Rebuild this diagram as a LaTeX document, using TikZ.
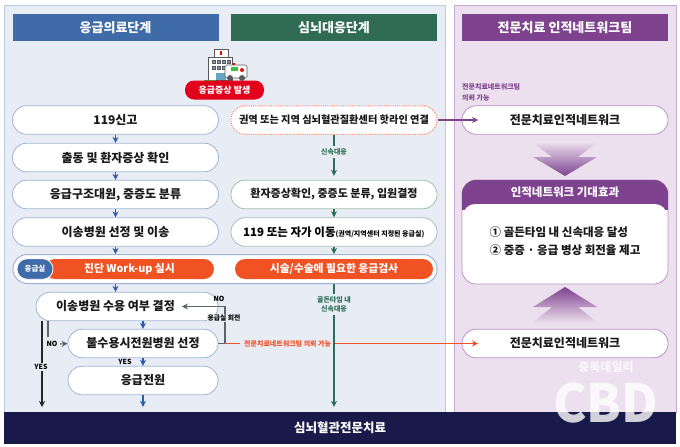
\documentclass[tikz,border=0pt]{standalone}
\usepackage{fontspec}
\setmainfont{Noto Sans CJK KR}
\usetikzlibrary{arrows.meta,shadings,fadings}
\definecolor{panelA}{HTML}{E8ECF5}
\definecolor{panelAline}{HTML}{B7CBE2}
\definecolor{panelB}{HTML}{ECDFEE}
\definecolor{panelBline}{HTML}{C9A9D3}
\definecolor{blueH}{HTML}{3F6CA8}
\definecolor{greenH}{HTML}{2F6B55}
\definecolor{purpleH}{HTML}{7E428F}
\definecolor{navy}{HTML}{1A1A4A}
\definecolor{orangeF}{HTML}{F15223}
\definecolor{redF}{HTML}{E3001B}
\definecolor{blueL}{HTML}{9DB6D8}
\definecolor{greenL}{HTML}{A2C2B2}
\definecolor{purpleL}{HTML}{BC93C8}
\definecolor{arrowB}{HTML}{2A5CA8}
\definecolor{arrowG}{HTML}{2C6E53}
\definecolor{grayL}{HTML}{5C6468}
\newcommand{\fs}[1]{\fontsize{#1}{#1}\selectfont}
\tikzset{
 x=1pt,y=-1pt,
 >={Stealth[length=6pt,width=6pt]},
 hdr/.style={inner sep=0pt,text=white,font=\fs{13}\bfseries,minimum height=27,minimum width=206},
 pill/.style={draw,line width=.8pt,fill=white,rounded corners=14pt,inner sep=0pt,minimum height=28.5,font=\fs{12}\bfseries,text=black!90},
 bluebox/.style={pill,draw=blueL,minimum width=206},
 greenbox/.style={pill,draw=greenL,minimum width=206},
 purplebox/.style={pill,draw=purpleL,minimum width=206},
 orangepill/.style={fill=orangeF,rounded corners=10pt,inner sep=0pt,minimum height=20,text=white,font=\fs{10.8}\bfseries},
 smalltxt/.style={inner sep=0pt,font=\fs{7}\bfseries,align=center},
 flowB/.style={->,draw=arrowB,line width=1.2pt},
 flowG/.style={->,draw=arrowG,line width=1.2pt},
 flowK/.style={draw=grayL,line width=1.1pt},
}
\begin{document}
\begin{tikzpicture}
\useasboundingbox (0,0) rectangle (680,447);
\fill[white] (0,0) rectangle (680,447);
% panels
\draw[fill=panelA,draw=panelAline,line width=.8pt] (4.5,5) rectangle (445,412);
\draw[fill=panelB,draw=panelBline,line width=.8pt] (454,5) rectangle (676,412);
% headers
\node[hdr,fill=blueH] (h1) at (115.5,27.5) {응급의료단계};
\node[hdr,fill=greenH] (h2) at (334,27.5) {심뇌대응단계};
\node[hdr,fill=purpleH] (h3) at (565,27.5) {전문치료 인적네트워크팀};
% icon
\begin{scope}[line width=.6pt,draw=black!65]
\draw[fill=white] (214,49) rectangle (228,57);
\fill[red] (220,51) rectangle (222,55);
\draw[fill=white] (208,57) rectangle (232,80);
\foreach \yy in {60,66}\foreach \xx in {212,217,222,227}{\draw[fill=blueH!70] (\xx,\yy) rectangle +(3,3);}
\fill[green!40!gray] (204,80) arc[start angle=180,end angle=0,radius=6] -- cycle;
\fill[cyan!50!gray] (216,73) rectangle (226,80);
\draw[fill=white,rounded corners=1.5pt] (225,65) rectangle (247,78);
\fill[green!50!gray] (231,66.5) rectangle (238,71);
\fill[red] (242,70) circle (2);
\fill[red] (233,62.5) rectangle (235,65);
\draw[fill=black!65] (230,78) circle (2.6) (242,78) circle (2.6);
\end{scope}
% trigger
\node[fill=redF,rounded corners=9pt,inner sep=0pt,minimum width=79,minimum height=19,text=white,font=\fs{9}\bfseries] (trig) at (224.5,90) {응급증상 발생};
% column 1
\node[bluebox] (a1) at (115.5,120) {119신고};
\node[bluebox] (a2) at (115.5,157.5) {출동 및 환자증상 확인};
\node[bluebox] (a3) at (115.5,194.5) {응급구조대원, 중증도 분류};
\node[bluebox] (a4) at (115.5,232) {이송병원 선정 및 이송};
% column 2
\node[pill,draw=orangeF!70,densely dotted,line width=1pt,minimum width=206,font=\fs{10.2}\bfseries] (b1) at (334,120) {권역 또는 지역 심뇌혈관질환센터 핫라인 연결};
\node[greenbox,font=\fs{11}\bfseries] (b2) at (334,194.5) {환자증상확인, 중증도 분류, 입원결정};
\node[greenbox] (b3) at (334,232) {};
\node[inner sep=0pt,font=\fs{11.5}\bfseries,anchor=west] (b3t) at (243,232) {119 또는 자가 이동\fs{7}(권역/지역센터 지정된 응급실)};
% band
\node[draw=blueL,line width=1pt,fill=white,rounded corners=14pt,minimum width=424,minimum height=29,inner sep=0pt] (band) at (225,269) {};
\node[orangepill,minimum width=169] (o1) at (129.5,269) {진단 Work-up 실시};
\node[orangepill,minimum width=198] (o2) at (334,269) {시술/수술에 필요한 응급검사};
\node[fill=blueH,draw=white,line width=.8pt,rounded corners=10pt,inner sep=0pt,minimum width=36,minimum height=20.5,text=white,font=\fs{7.5}\bfseries] (er) at (35,269) {응급실};
% decisions
\node[bluebox,minimum width=182] (d1) at (127,306.5) {이송병원 수용 여부 결정\hspace*{23pt}};
\node[bluebox,minimum width=150] (d2) at (143,343.5) {불수용시전원병원 선정};
\node[bluebox,minimum width=150] (d3) at (143,380.5) {응급전원};
% bottom bar
\node[fill=navy,minimum width=672,minimum height=32,inner sep=0pt,text=white,font=\fs{12.5}\bfseries] (bar) at (340,428) {심뇌혈관전문치료};
% right column
\node[purplebox] (c1) at (565,120) {전문치료인적네트워크};
\node[purplebox] (c2) at (565,343.5) {전문치료인적네트워크};
\node[smalltxt,text=purpleH,align=left,anchor=west] (c0a) at (462,87) {전문치료네트워크팀};
\node[smalltxt,text=purpleH,align=left,anchor=west] (c0b) at (462,98) {의뢰 가능};
% card
\node[draw=purpleL,line width=.8pt,fill=white,rounded corners=14pt,minimum width=206,minimum height=104,inner sep=0pt] (card) at (565,232) {};
\begin{scope}
\clip[rounded corners=14pt] (462,180) rectangle (668,284);
\fill[purpleH] (462,180) rectangle (668,210);
\end{scope}
\fill[white,rounded corners=12pt] (463,204) rectangle (667,240);
\fill[white] (463,225) rectangle (667,240);
\node[inner sep=0pt,text=white,font=\fs{11.5}\bfseries] (cardt) at (565,192) {인적네트워크 기대효과};
\node[inner sep=0pt,font=\fs{11.5}\bfseries,text=black!90,align=left] (cardb) at (565,241) {① 골든타임 내 신속대응 달성\\[6.5pt]② 중증 · 응급 병상 회전율 제고};
% big arrows
\shade[top color=panelB,middle color=purpleH!35!panelB,bottom color=purpleH] (532,142) -- (598,142) -- (578,157) -- (597,157) -- (565,176) -- (533,157) -- (552,157) -- cycle;
\shade[bottom color=panelB,middle color=purpleH!35!panelB,top color=purpleH] (532,323) -- (598,323) -- (578,307) -- (597,307) -- (565,287) -- (533,307) -- (552,307) -- cycle;
% flows
\draw[flowB] (a1) -- (a2);
\draw[flowB] (a2) -- (a3);
\draw[flowB] (a3) -- (a4);
\draw[flowB] (a4) -- (a4 |- band.north);
\draw[flowB] (a4 |- band.south) -- (a4 |- d1.north);
\draw[flowB] (d1.south -| d2) -- (d2);
\draw[flowB] (d2) -- (d3);
\draw[flowB,shorten >=5pt] (d3) -- (d3 |- bar.north);
% green
\node[smalltxt,text=arrowG] (l1) at (334,152) {신속대응};
\draw[arrowG,line width=1.2pt,shorten >=3pt] (b1) -- (l1);
\draw[flowG,shorten <=3pt,shorten >=4pt] (l1) -- (b2);
\draw[flowG] (b2) -- (b3);
\draw[flowG] (b3) -- (b3 |- band.north);
\node[smalltxt,text=arrowG,align=center] (l2) at (334,304) {골든타임 내\\[2pt]신속대응};
\draw[arrowG,line width=1.2pt,shorten >=2pt] (b3 |- band.south) -- (l2);
\draw[flowG,shorten <=3pt,shorten >=5pt] (l2) -- (l2 |- bar.north);
% YES black
\coordinate (yesTop) at (42,320.5);
\coordinate (yesEnd) at (42,407);
\node[smalltxt,fill=panelA,inner sep=1pt] (yes1) at (41,367) {YES};
\draw[black!85,line width=1.2pt] (yesTop) -- (yesTop |- yes1.north);
\draw[->,black!85,line width=1.2pt] (yesTop |- yes1.south) -- (yesEnd);
% NO gray
\coordinate (noTop) at (48,320.5);
\node[smalltxt] (no1) at (52,344) {NO};
\draw[flowK] (noTop) -- (48,337);
\draw[flowK,->] (60,344) -- (d2.west);
\node[smalltxt] (yes2) at (125,362) {YES};
% feedback
\coordinate (fb) at (225,343.5);
\node[smalltxt] (no2) at (219,299) {NO};
\node[smalltxt,fill=panelA,inner sep=1pt,font=\fs{6.8}\bfseries] (fbl) at (224,318) {응급실 회전};
\draw[flowK] (d2.east) -- (fb) -- (fb |- fbl.south);
\draw[flowK,->] (fb |- fbl.north) -- (225,306.5) -- (182,306.5);
% orange link
\node[smalltxt,text=orangeF,anchor=west] (ol) at (244,343.5) {전문치료네트워크팀 의뢰 가능};
\draw[orangeF,line width=1.1pt,shorten >=4pt] (fb) -- (ol.west);
\draw[->,orangeF,line width=1.1pt,shorten <=4pt] (ol.east) -- (478,343.5);
% purple link
\draw[->,purpleH,line width=1.1pt] (b1.east) -- (478,120);
% watermark
\node[inner sep=0pt,text=white,opacity=.75,font=\fs{12}\bfseries] (wm1) at (606,367.5) {충북데일리};
\node[inner sep=0pt,text=white,opacity=.8,font=\bfseries] (wm2) at (606,403) {\scalebox{1.2}[1.25]{\fs{42}CBD}};
\end{tikzpicture}
\end{document}
